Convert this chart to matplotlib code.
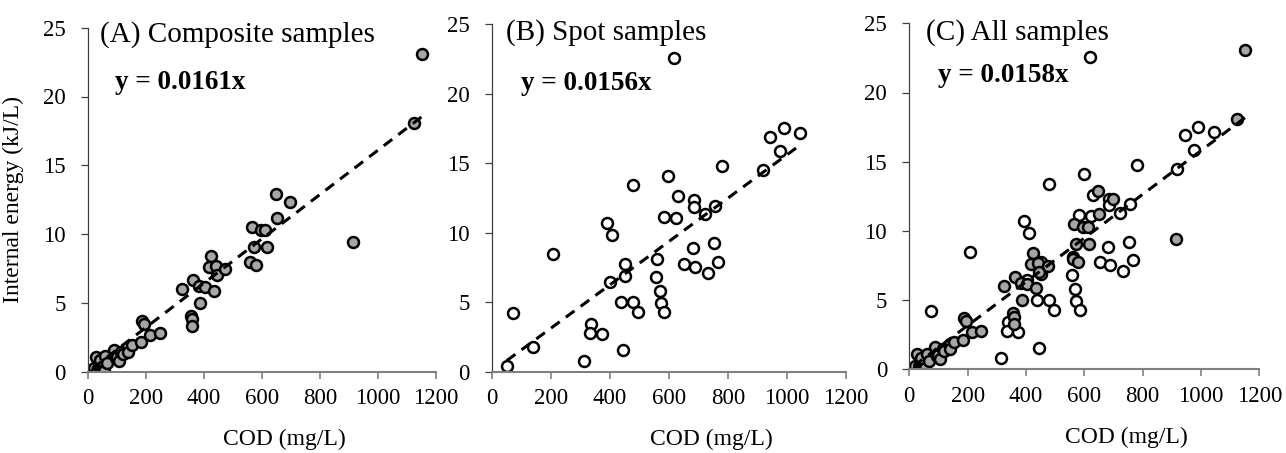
import matplotlib
matplotlib.use('Agg')
import matplotlib.pyplot as plt
import numpy as np

plt.rcParams['font.family'] = ['Liberation Serif', 'DejaVu Serif']

# composite samples (COD mg/L, internal energy kJ/L)
comp_cod = [15, 21, 32, 38, 44, 50, 55, 26, 40, 60, 67, 89, 95, 100, 106, 115, 120,
            138, 152, 184, 187, 193, 215, 247, 325, 356, 358, 359, 362, 382, 386,
            405, 417, 425, 434, 440, 446, 474, 560, 566, 572, 578, 597, 612, 616,
            647, 650, 698, 913, 1123, 1152]
comp_ie = [0.05, 0.25, 0.07, 0.41, 0.17, 0.12, 0.07, 1.09, 0.85, 1.14, 0.61, 1.58, 0.97,
           1.05, 0.78, 1.45, 1.30, 1.45, 1.94, 2.15, 3.71, 3.50, 2.70, 2.79, 6.00, 4.05,
           3.80, 3.30, 6.70, 6.20, 5.01, 6.15, 7.60, 8.40, 5.90, 7.70, 7.05, 7.44, 8.00,
           10.50, 9.08, 7.75, 10.30, 10.30, 9.08, 12.90, 11.20, 12.30, 9.40, 18.05, 23.10]

# spot samples
spot_cod = [51, 73, 139, 209, 313, 338, 334, 374, 392, 409, 402, 437, 446, 452, 451,
            478, 479, 497, 558, 561, 569, 572, 585, 583, 598, 623, 631, 618, 653, 687,
            682, 684, 685, 723, 733, 754, 758, 768, 780, 919, 944, 975, 989, 1043]
spot_ie = [0.43, 4.19, 1.80, 8.46, 0.79, 3.43, 2.76, 2.68, 10.71, 9.83, 6.47, 4.99, 1.56,
           7.74, 6.88, 13.40, 5.03, 4.27, 6.81, 8.08, 5.80, 4.91, 4.27, 11.12, 14.09,
           11.05, 12.63, 22.53, 7.74, 7.55, 8.87, 12.34, 11.86, 11.31, 7.12, 9.23, 11.94,
           7.91, 14.79, 14.50, 16.90, 15.87, 17.50, 17.14]

slopes = [0.0161, 0.0156, 0.0158]
titles = ['(A) Composite samples', '(B) Spot samples', '(C) All samples']
eqs = ['y = 0.0161x', 'y = 0.0156x', 'y = 0.0158x']

fig = plt.figure(figsize=(12.86, 4.53), dpi=100)
W, H = 1286, 453
boxes = [(88, 27.7, 436, 371.7), (491.7, 24, 846, 371.7), (909.3, 23.3, 1259.3, 369.3)]
title_pos = [(0.034, 0.959), (0.040, 0.956), (0.048, 0.952)]
eq_pos = [(0.078, 0.821), (0.082, 0.810), (0.081, 0.831)]
xlab_x = [0.563, 0.621, 0.619]

axes = []
for (l, t, r, b) in boxes:
    axes.append(fig.add_axes([l / W, 1 - b / H, (r - l) / W, (b - t) / H]))


def style_axis(ax, i):
    ax.set_xlim(0, 1200)
    ax.set_ylim(0, 25)
    ax.set_xticks(np.arange(0, 1201, 200))
    ax.set_yticks(np.arange(0, 26, 5))
    ax.spines['top'].set_visible(False)
    ax.spines['right'].set_visible(False)
    ax.spines['left'].set_color('#404040')
    ax.spines['left'].set_linewidth(0.9)
    ax.spines['bottom'].set_color('#808080')
    ax.spines['bottom'].set_linewidth(1.5)
    ax.tick_params(axis='x', direction='out', length=5, width=1.2, color='#808080',
                   labelsize=16.5, pad=7)
    ax.tick_params(axis='y', direction='out', length=5, width=0.9, color='#404040',
                   labelsize=16.5, pad=11)
    ax.set_xlabel('COD (mg/L)', fontsize=17)
    ax.xaxis.set_label_coords(xlab_x[i], -0.165)
    ax.text(title_pos[i][0], title_pos[i][1], titles[i], transform=ax.transAxes,
            fontsize=21, va='baseline', ha='left')
    ax.text(eq_pos[i][0], eq_pos[i][1], eqs[i], transform=ax.transAxes,
            fontsize=19.5, fontweight='bold', va='baseline', ha='left')


def trend(ax, x, slope):
    xs = np.array([min(x), max(x)])
    ax.plot(xs, slope * xs, color='black', lw=2.2, ls=(0, (3.5, 2.5)), zorder=3)


grey = dict(s=62, facecolor='#a6a6a6', edgecolor='black', linewidths=1.8, zorder=2)
white = dict(s=62, facecolor='white', edgecolor='black', linewidths=1.8, zorder=2)

ax1, ax2, ax3 = axes
ax1.scatter(comp_cod, comp_ie, **grey)
trend(ax1, comp_cod, slopes[0])

ax2.scatter(spot_cod, spot_ie, **white)
trend(ax2, spot_cod, slopes[1])

ax3.scatter(spot_cod, spot_ie, **white)
ax3.scatter(comp_cod, comp_ie, **grey)
trend(ax3, comp_cod + spot_cod, slopes[2])

for i, ax in enumerate(axes):
    style_axis(ax, i)

ax1.set_ylabel('Internal energy (kJ/L)', fontsize=17)
ax1.yaxis.set_label_coords(-0.185, 0.5)

fig.savefig('out.png', dpi=100)
